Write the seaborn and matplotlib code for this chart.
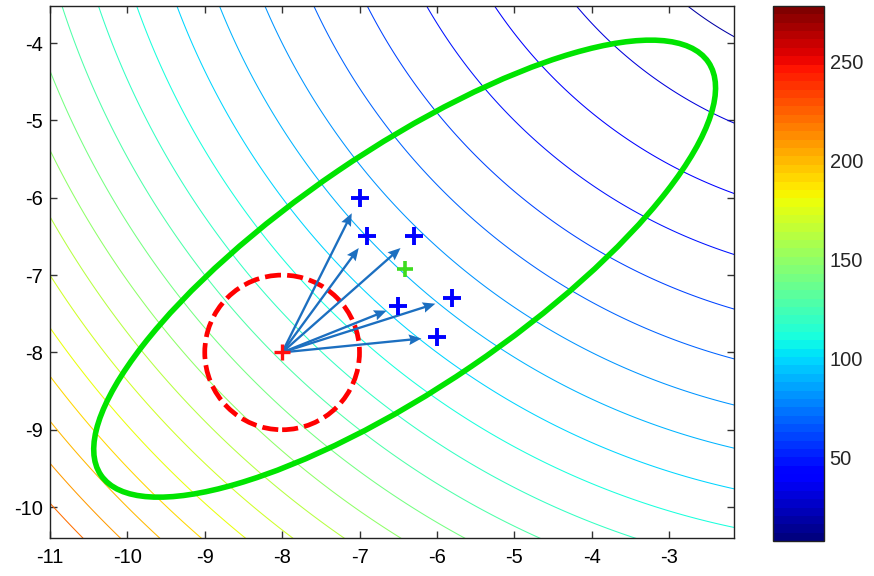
import numpy as np
import pandas as pd
import matplotlib
matplotlib.use("Agg")
import matplotlib.pyplot as plt
import matplotlib as mpl
from matplotlib.patches import Ellipse, Circle
import seaborn as sns

# ---------------- data ----------------
sample_x = [-7.0, -6.9, -6.3, -6.5, -5.8, -6.0]
sample_y = [-6.0, -6.5, -6.5, -7.4, -7.3, -7.8]
old_mean = [-8.0, -8.0]
old_sigma = 1.0
# updated covariance (in sigma^2 units), as read from the green ellipse
new_cov_xx = 2.69
new_cov_yy = 1.455
new_cov_xy = 1.565
ellipse_scale = 2.45          # confidence scale of the drawn ellipse
quiver_scale = 0.9            # matlab quiver auto-scale
contour_levels = list(range(10, 280, 10))
field_center = [0.0, 0.0]     # objective f = |p - c|^2
color_limits = [8, 278]
x_ticks = [-11, -10, -9, -8, -7, -6, -5, -4, -3]
y_ticks = [-10, -9, -8, -7, -6, -5, -4]
cbar_ticks = [50, 100, 150, 200, 250]
x_limits = [-11, -2.16]
y_limits = [-10.4, -3.52]

sns.set_style("ticks")
plt.rcParams["font.family"] = ["Liberation Sans", "DejaVu Sans"]

df = pd.DataFrame({"x": sample_x, "y": sample_y})

fig = plt.figure(figsize=(8.74, 5.76), dpi=100)
ax = fig.add_axes([50 / 874, 38 / 576, 684 / 874, 532 / 576])
cax = fig.add_axes([773 / 874, 35 / 576, 51 / 874, 535 / 576])

cmap = mpl.colormaps["jet"].resampled(64)
norm = mpl.colors.Normalize(vmin=color_limits[0], vmax=color_limits[1])

# objective field
gx = np.linspace(-11.5, -1.5, 201)
gy = np.linspace(-11.0, -3.0, 161)
X, Y = np.meshgrid(gx, gy)
Z = (X - field_center[0]) ** 2 + (Y - field_center[1]) ** 2
ax.contour(X, Y, Z, levels=contour_levels, cmap=cmap, norm=norm, linewidths=0.75)

# old distribution (dashed circle)
ax.add_patch(Circle((old_mean[0], old_mean[1]), old_sigma, fill=False,
                    edgecolor="#ff0000", linewidth=3.4, linestyle=(0, (3.4, 1.3)),
                    zorder=4))

# updated covariance ellipse
C = np.array([[new_cov_xx, new_cov_xy], [new_cov_xy, new_cov_yy]])
evals, evecs = np.linalg.eigh(C)
ang = np.degrees(np.arctan2(evecs[1, 1], evecs[0, 1]))
new_mean = [np.mean(sample_x), np.mean(sample_y)]
ax.add_patch(Ellipse((new_mean[0], new_mean[1]),
                     width=2 * ellipse_scale * np.sqrt(evals[1]) * old_sigma,
                     height=2 * ellipse_scale * np.sqrt(evals[0]) * old_sigma,
                     angle=ang, fill=False, edgecolor="#00e400", linewidth=4.0,
                     zorder=5))

# arrows from old mean to samples
u = [xi - old_mean[0] for xi in sample_x]
v = [yi - old_mean[1] for yi in sample_y]
ax.quiver([old_mean[0]] * len(u), [old_mean[1]] * len(v), u, v,
          angles="xy", scale_units="xy", scale=1 / quiver_scale,
          color="#1c6fc0", width=0.0034, headwidth=4.6, headlength=5.4,
          headaxislength=4.8, zorder=6)

# sample points
sns.scatterplot(data=df, x="x", y="y", marker="+", s=150, color="#0000ff",
                linewidth=2.8, ax=ax, zorder=7, legend=False)
ax.plot([old_mean[0]], [old_mean[1]], marker="+", color="#ff1010",
        markersize=11, markeredgewidth=2.4, zorder=7, linestyle="none")
ax.plot([new_mean[0]], [new_mean[1]], marker="+", color="#3ddc1e",
        markersize=11, markeredgewidth=2.6, zorder=7, linestyle="none")

ax.set_xlim(*x_limits)
ax.set_ylim(*y_limits)
ax.set_xticks(x_ticks)
ax.set_yticks(y_ticks)
ax.set_xticklabels([str(t) for t in x_ticks])
ax.set_yticklabels([str(t) for t in y_ticks])
ax.set_xlabel("")
ax.set_ylabel("")
ax.tick_params(direction="in", length=5, width=1, labelsize=14.5, top=True,
               right=True, colors="#333333", labelcolor="black")
ax.tick_params(axis="x", pad=7)
ax.tick_params(axis="y", pad=5)
for s in ax.spines.values():
    s.set_visible(True)
    s.set_linewidth(1.0)
    s.set_color("#222222")

sm = mpl.cm.ScalarMappable(norm=norm, cmap=cmap)
cb = fig.colorbar(sm, cax=cax)
cb.set_ticks(cbar_ticks)
cb.set_ticklabels([str(t) for t in cbar_ticks])
cb.outline.set_linewidth(1.0)
cb.outline.set_edgecolor("#222222")
cax.tick_params(direction="in", length=5, width=1, labelsize=14.5, left=True,
                right=True, pad=4)

fig.savefig("out.png", dpi=100, facecolor="white")
